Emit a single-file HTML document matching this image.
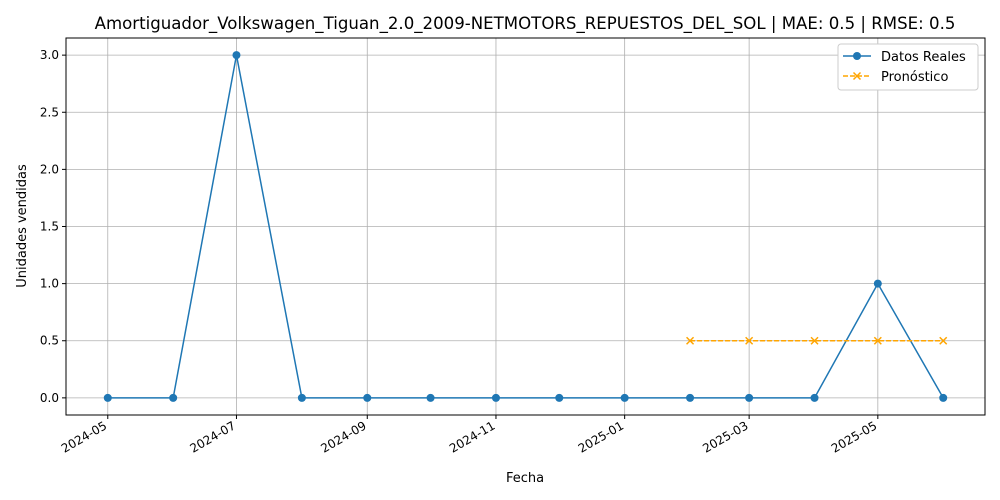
<!DOCTYPE html>
<html><head><meta charset="utf-8"><style>
html,body{margin:0;background:#fff;overflow:hidden;width:1000px;height:500px;font-family:"Liberation Sans","DejaVu Sans",sans-serif}
svg{display:block}
svg text{font-family:"DejaVu Sans","Liberation Sans",sans-serif}
</style></head><body>
<svg id="chart" width="1000" height="500" xmlns="http://www.w3.org/2000/svg">
<text x="525" y="29" font-size="16.6" text-anchor="middle" fill="#000">Amortiguador_Volkswagen_Tiguan_2.0_2009-NETMOTORS_REPUESTOS_DEL_SOL | MAE: 0.5 | RMSE: 0.5</text>
<g id="grid"></g><g id="axes"></g><g id="series"></g>
<text x="525" y="482" font-size="13" text-anchor="middle">Fecha</text>
<text transform="translate(26,226) rotate(-90)" font-size="13" text-anchor="middle">Unidades vendidas</text>
<g>
<rect x="838" y="44" width="140" height="46" fill="#fff" stroke="#ccc" rx="3"/>
<line x1="843" y1="56" x2="871" y2="56" stroke="#1f77b4" stroke-width="1.5"/>
<circle cx="857" cy="56" r="4" fill="#1f77b4"/>
<text x="881" y="61" font-size="13">Datos Reales</text>
<line x1="843" y1="76" x2="871" y2="76" stroke="orange" stroke-width="1.5" stroke-dasharray="5,2"/>
<path d="M853.5 72.5l7 7M860.5 72.5l-7 7" stroke="orange" stroke-width="1.5"/>
<text x="881" y="81" font-size="13">Pronóstico</text>
</g>
</svg>
<script>
const realDates=["2024-05-01","2024-06-01","2024-07-01","2024-08-01","2024-09-01","2024-10-01","2024-11-01","2024-12-01","2025-01-01","2025-02-01","2025-03-01","2025-04-01","2025-05-01","2025-06-01"];
const realValues=[0,0,3,0,0,0,0,0,0,0,0,0,1,0];
const fcDates=["2025-02-01","2025-03-01","2025-04-01","2025-05-01","2025-06-01"];
const fcValues=[0.5,0.5,0.5,0.5,0.5];
const xTicks=["2024-05","2024-07","2024-09","2024-11","2025-01","2025-03","2025-05"];
const yTicks=[0,0.5,1,1.5,2,2.5,3];
const ns="http://www.w3.org/2000/svg";
const L=66,R=985,T=38,B=415;
const t=d=>new Date(d.length===7?d+"-01":d).getTime();
const ts=realDates.map(t);
const tmin=Math.min(...ts),tmax=Math.max(...ts),pad=(tmax-tmin)*0.05;
const x=d=>L+(t(d)-(tmin-pad))/((tmax+pad)-(tmin-pad))*(R-L);
const ymin=-0.15,ymax=3.15;
const y=v=>B-(v-ymin)/(ymax-ymin)*(B-T);
function el(tag,a,p){const e=document.createElementNS(ns,tag);for(const k in a)e.setAttribute(k,a[k]);p.appendChild(e);return e;}
const g=document.getElementById('grid'),ax=document.getElementById('axes'),s=document.getElementById('series');
xTicks.forEach(d=>{const X=x(d);
const gl=el('line',{x1:X,x2:X,y1:T,y2:B,stroke:'#b0b0b0','stroke-width':0.8},g);


el('line',{x1:X,x2:X,y1:B,y2:B+4,stroke:'#000'},ax);
const tx=el('text',{x:X,y:B+13,'font-size':12,'text-anchor':'end',transform:`rotate(-30 ${X} ${B+13})`},ax);
tx.textContent=d;

});
yTicks.forEach(v=>{const Y=y(v);
const gl=el('line',{x1:L,x2:R,y1:Y,y2:Y,stroke:'#b0b0b0','stroke-width':0.8},g);


el('line',{x1:L-4,x2:L,y1:Y,y2:Y,stroke:'#000'},ax);
const tx=el('text',{x:L-7,y:Y+4,'font-size':12,'text-anchor':'end'},ax);
tx.textContent=v.toFixed(1);

});
const fr=el('rect',{x:L,y:T,width:R-L,height:B-T,fill:'none',stroke:'#000','stroke-width':1},ax);


const rl=el('polyline',{points:realDates.map((d,i)=>x(d)+','+y(realValues[i])).join(' '),fill:'none',stroke:'#1f77b4','stroke-width':1.5},s);


realDates.forEach((d,i)=>{const c=el('circle',{cx:x(d),cy:y(realValues[i]),r:4,fill:'#1f77b4'},s);

});
const fl=el('polyline',{points:fcDates.map((d,i)=>x(d)+','+y(fcValues[i])).join(' '),fill:'none',stroke:'orange','stroke-width':1.5,'stroke-dasharray':'5,2'},s);


fcDates.forEach((d,i)=>{const X=x(d),Y=y(fcValues[i]);
const m=el('path',{d:`M${X-3.5} ${Y-3.5}l7 7M${X+3.5} ${Y-3.5}l-7 7`,stroke:'orange','stroke-width':1.5},s);

});
</script>
</body></html>
